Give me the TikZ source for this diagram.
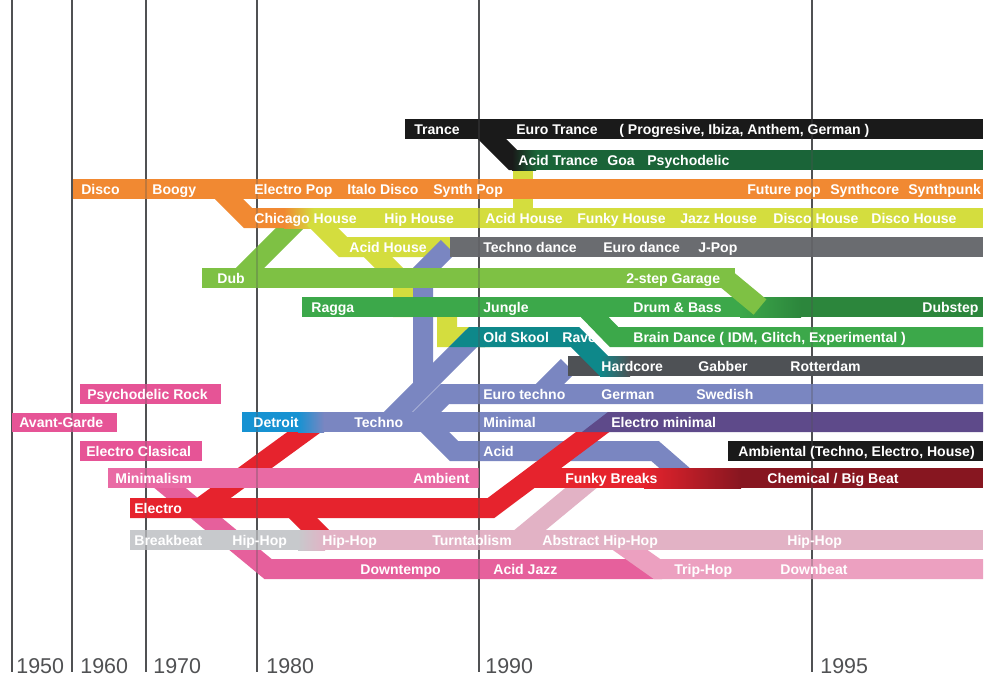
\documentclass[tikz,border=0pt]{standalone}
\usepackage{fontspec}
\setmainfont{Liberation Sans}
\usepackage{tikz}
\definecolor{yeargray}{RGB}{80,81,83}
\definecolor{tranceblack}{RGB}{26,26,26}
\definecolor{trancegreen}{RGB}{26,100,56}
\definecolor{discoorange}{RGB}{241,137,50}
\definecolor{houselime}{RGB}{212,221,62}
\definecolor{dancegray}{RGB}{106,108,112}
\definecolor{dubgreen}{RGB}{126,193,68}
\definecolor{junglegreen}{RGB}{60,168,74}
\definecolor{dubstepgreen}{RGB}{44,134,60}
\definecolor{skoolteal}{RGB}{14,136,138}
\definecolor{hardgray}{RGB}{78,81,85}
\definecolor{technoblue}{RGB}{122,134,193}
\definecolor{detroitblue}{RGB}{22,146,210}
\definecolor{minpurple}{RGB}{94,74,138}
\definecolor{electrored}{RGB}{230,35,45}
\definecolor{bigbeatred}{RGB}{135,22,32}
\definecolor{rockpink}{RGB}{230,84,150}
\definecolor{minpink}{RGB}{233,106,164}
\definecolor{downpink}{RGB}{230,96,156}
\definecolor{breakgray}{RGB}{199,201,204}
\definecolor{hiphoppink}{RGB}{226,178,197}
\definecolor{trippink}{RGB}{236,160,192}
\tikzset{
  band/.style={line width=0.4cm,line join=miter},
  genre/.style={anchor=base west,inner sep=0pt,text=white,font=\bfseries\fontsize{8}{9}\selectfont},
  yearlbl/.style={anchor=base west,inner sep=0pt,text=yeargray,font=\fontsize{12.2}{14}\selectfont},
  decade/.style={draw=yeargray,line width=0.04cm},
  decadefade/.style={draw=yeargray,line width=0.04cm,opacity=0.3}
}

\begin{document}
\begin{tikzpicture}[x=0.02cm,y=-0.02cm]
  \fill[white] (0,0) rectangle (995,694);
  \useasboundingbox (0,0) rectangle (995,694);

  % decade rules
  \draw[decade] (12,0) -- (12,672);
  \draw[decade] (72,0) -- (72,672);
  \draw[decade] (146,0) -- (146,672);
  \draw[decade] (257,0) -- (257,672);
  \draw[decade] (479,0) -- (479,672);
  \draw[decade] (812,0) -- (812,672);

  % trance
  \draw[band,houselime] (523,160) -- (523,218);
  \draw[band,tranceblack] (405,129) -- (983,129);
  \draw[band,tranceblack] (482,129) -- (513,160) -- (522,160);
  \draw[band,trancegreen] (522,160) -- (983,160);
  \shade[left color=tranceblack,right color=trancegreen] (512,150) rectangle (536,170);

  % disco and house
  \draw[band,dubgreen] (240,278) -- (300,218);
  \draw[band,discoorange] (73,189) -- (983,189);
  \draw[band,discoorange] (219,189) -- (248,218) -- (300,218);
  \draw[band,houselime] (300,218) -- (983,218);
  \shade[left color=discoorange,right color=houselime] (284,208) rectangle (314,228);
  \draw[band,houselime] (314,218) -- (343,247) -- (450,247);
  \draw[band,houselime] (368,247) -- (403,282) -- (403,307) -- (447,307) -- (447,337) -- (490,337);

  % techno trunk
  \draw[band,technoblue] (388,422) -- (473,337);
  \draw[band,technoblue] (423,387) -- (423,272) -- (448,247);
  \draw[band,dancegray] (450,247) -- (983,247);

  % dub, jungle
  \draw[band,dubgreen] (202,278) -- (735,278);
  \draw[band,junglegreen] (302,307) -- (760,307);
  \draw[band,dubstepgreen] (800,307) -- (983,307);
  \shade[left color=junglegreen,right color=dubstepgreen] (740,297) rectangle (801,317);
  \draw[band,dubgreen] (725,278) -- (760,307);

  % hardcore, old skool
  \draw[band,technoblue] (540,394) -- (568,366);
  \draw[band,hardgray] (568,366) -- (983,366);
  \fill[skoolteal] (449,347) -- (469,327) -- (485,327) -- (485,347) -- cycle;
  \draw[band,skoolteal] (480,337) -- (575,337) -- (604,366) -- (610,366);
  \shade[left color=skoolteal,right color=hardgray] (600,356) rectangle (630,376);
  \draw[band,junglegreen] (585,307) -- (614,337) -- (983,337);

  % euro techno, acid
  \draw[band,technoblue] (417,422) -- (445,394) -- (983,394);
  \draw[band,technoblue] (425,422) -- (454,451) -- (655,451) -- (686,478);

  % electro and downtempo
  \draw[band,electrored] (200,508) -- (318,422);
  \draw[band,electrored] (293,508) -- (325,540);
  \draw[band,downpink] (158,478) -- (268,569) -- (662,569);
  \draw[band,trippink] (616,540) -- (657,569) -- (983,569);
  \draw[band,hiphoppink] (518,540) -- (593,478);
  \draw[band,electrored] (130,508) -- (491,508) -- (606,422);

  % techno row
  \draw[band,technoblue] (300,422) -- (612,422);
  \draw[band,detroitblue] (242,422) -- (300,422);
  \shade[left color=detroitblue,right color=technoblue] (298,412) rectangle (324,432);
  \fill[minpurple] (582,432) -- (608,412) -- (983,412) -- (983,432) -- cycle;

  % minimalism, breaks, hip-hop
  \draw[band,minpink] (108,478) -- (479,478);
  \draw[band,electrored] (531,478) -- (645,478);
  \draw[band,bigbeatred] (740,478) -- (983,478);
  \shade[left color=electrored,right color=bigbeatred] (644,468) rectangle (741,488);
  \draw[band,breakgray] (130,540) -- (300,540);
  \draw[band,hiphoppink] (324,540) -- (983,540);
  \shade[left color=breakgray,right color=hiphoppink] (298,530) rectangle (325,550);

  % roots
  \fill[rockpink] (80,384) rectangle (221,404);
  \fill[rockpink] (12,413) rectangle (117,432);
  \fill[rockpink] (80,441) rectangle (202,461);
  \fill[tranceblack] (728,441) rectangle (983,461);

  \draw[decadefade] (812,0) -- (812,672);
  \draw[decadefade] (479,0) -- (479,672);
  \draw[decadefade] (257,0) -- (257,672);
  \draw[decadefade] (146,0) -- (146,672);
  \draw[decadefade] (72,0) -- (72,672);

  \node[genre] (trance) at (414,134) {Trance};
  \node[genre] (eurotrance) at (516,134) {Euro Trance};
  \node[genre] (progressive) at (619,134) {( Progresive, Ibiza, Anthem, German )};
  \node[genre] (acidtrance) at (518,165) {Acid Trance};
  \node[genre] (goa) at (607,165) {Goa};
  \node[genre] (psytrance) at (647,165) {Psychodelic};
  \node[genre] (disco) at (81,194) {Disco};
  \node[genre] (boogy) at (152,194) {Boogy};
  \node[genre] (electropop) at (254,194) {Electro Pop};
  \node[genre] (italo) at (347,194) {Italo Disco};
  \node[genre] (synthpop) at (433,194) {Synth Pop};
  \node[genre] (futurepop) at (747,194) {Future pop};
  \node[genre] (synthcore) at (830,194) {Synthcore};
  \node[genre] (synthpunk) at (908,194) {Synthpunk};
  \node[genre] (chicago) at (254,223) {Chicago House};
  \node[genre] (hiphouse) at (384,223) {Hip House};
  \node[genre] (acidhouseB) at (485,223) {Acid House};
  \node[genre] (funkyhouse) at (577,223) {Funky House};
  \node[genre] (jazzhouse) at (680,223) {Jazz House};
  \node[genre] (discohouseA) at (773,223) {Disco House};
  \node[genre] (discohouseB) at (871,223) {Disco House};
  \node[genre] (acidhouseA) at (349,252) {Acid House};
  \node[genre] (technodance) at (483,252) {Techno dance};
  \node[genre] (eurodance) at (603,252) {Euro dance};
  \node[genre] (jpop) at (698,252) {J-Pop};
  \node[genre] (dub) at (217,283) {Dub};
  \node[genre] (garage) at (626,283) {2-step Garage};
  \node[genre] (ragga) at (311,312) {Ragga};
  \node[genre] (jungle) at (483,312) {Jungle};
  \node[genre] (dnb) at (633,312) {Drum \& Bass};
  \node[genre] (dubstep) at (922,312) {Dubstep};
  \node[genre] (oldskool) at (483,342) {Old Skool};
  \node[genre] (rave) at (562,342) {Rave};
  \node[genre] (braindance) at (633,342) {Brain Dance ( IDM, Glitch, Experimental )};
  \node[genre] (hardcore) at (601,371) {Hardcore};
  \node[genre] (gabber) at (698,371) {Gabber};
  \node[genre] (rotterdam) at (790,371) {Rotterdam};
  \node[genre] (psyrock) at (87,399) {Psychodelic Rock};
  \node[genre] (eurotechno) at (483,399) {Euro techno};
  \node[genre] (german) at (601,399) {German};
  \node[genre] (swedish) at (696,399) {Swedish};
  \node[genre] (avantgarde) at (19,427) {Avant-Garde};
  \node[genre] (detroit) at (253,427) {Detroit};
  \node[genre] (techno) at (354,427) {Techno};
  \node[genre] (minimal) at (483,427) {Minimal};
  \node[genre] (electrominimal) at (611,427) {Electro minimal};
  \node[genre] (electroclassical) at (86,456) {Electro Clasical};
  \node[genre] (acid) at (483,456) {Acid};
  \node[genre] (ambiental) at (738,456) {Ambiental (Techno, Electro, House)};
  \node[genre] (minimalism) at (115,483) {Minimalism};
  \node[genre] (ambient) at (413,483) {Ambient};
  \node[genre] (funkybreaks) at (565,483) {Funky Breaks};
  \node[genre] (bigbeat) at (767,483) {Chemical / Big Beat};
  \node[genre] (electro) at (134,513) {Electro};
  \node[genre] (breakbeat) at (134,545) {Breakbeat};
  \node[genre] (hiphopA) at (232,545) {Hip-Hop};
  \node[genre] (hiphopB) at (322,545) {Hip-Hop};
  \node[genre] (turntablism) at (432,545) {Turntablism};
  \node[genre] (abstract) at (542,545) {Abstract Hip-Hop};
  \node[genre] (hiphopC) at (787,545) {Hip-Hop};
  \node[genre] (downtempo) at (360,574) {Downtempo};
  \node[genre] (acidjazz) at (493,574) {Acid Jazz};
  \node[genre] (triphop) at (674,574) {Trip-Hop};
  \node[genre] (downbeat) at (780,574) {Downbeat};

  \node[yearlbl] (y1950) at (16,673) {1950};
  \node[yearlbl] (y1960) at (80,673) {1960};
  \node[yearlbl] (y1970) at (153,673) {1970};
  \node[yearlbl] (y1980) at (266,673) {1980};
  \node[yearlbl] (y1990) at (485,673) {1990};
  \node[yearlbl] (y1995) at (820,673) {1995};
\end{tikzpicture}
\end{document}
